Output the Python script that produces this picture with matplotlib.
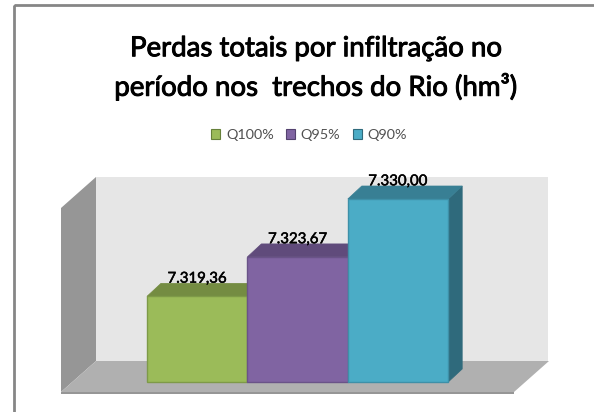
import matplotlib
matplotlib.use("Agg")
import matplotlib.pyplot as plt
import matplotlib.patheffects as pe
from matplotlib.patches import Polygon, Rectangle
from matplotlib.transforms import Affine2D

series = ["Q100%", "Q95%", "Q90%"]
values = [7319.36, 7323.67, 7330.00]
labels = ["7.319,36", "7.323,67", "7.330,00"]
title = "Perdas totais por infiltração no\nperíodo nos  trechos do Rio (hm³)"
front = ["#9BBB59", "#8064A2", "#4BACC6"]
top = ["#748C42", "#604B7B", "#387F94"]
side = ["#66803A", "#54426F", "#2F6A7C"]
edge = ["#7E9A48", "#6A5388", "#3E90A8"]

W, H = 594, 412
fig = plt.figure(figsize=(W / 100, H / 100), dpi=100, facecolor="white")
ax = fig.add_axes([0, 0, 1, 1])
ax.axis("off")

base = 7310.0
py_per_unit = 9.15
px_per_cat = 100.4
x0 = 147 + px_per_cat / 2
ax.set_xlim(-x0 / px_per_cat, (W - x0) / px_per_cat)
ax.set_ylim(base - (H - 382) / py_per_unit, base + 382 / py_per_unit)
dx = 14 / px_per_cat
dy = 13 / py_per_unit

px = Affine2D().scale(1, -1).translate(0, H)


def poly(pts, fc, z=1):
    ax.add_patch(Polygon(pts, closed=True, facecolor=fc, edgecolor="none",
                         transform=px, zorder=z, clip_on=False))


poly([(96, 177), (548, 177), (548, 361), (96, 361)], "#E6E6E6")
poly([(61, 208), (96, 177), (96, 361), (61, 392)], "#969696")
poly([(61, 392), (96, 361), (549, 361), (514, 392)], "#B0B0B0")
poly([(61, 392), (514, 392), (514, 393.5), (61, 393.5)], "#969696")

ax.add_patch(Rectangle((14, 5), W + 10, H + 10, fill=False, edgecolor="#868686",
                       linewidth=2, transform=px, zorder=6, clip_on=False))

for i, v in enumerate(values):
    ax.bar(i, v - base, bottom=base, width=1.0, color=front[i], edgecolor=edge[i],
           linewidth=1, zorder=3 + i * 0.1)
    l, r = i - 0.5, i + 0.5
    ax.add_patch(Polygon([(l, v), (r, v), (r + dx, v + dy), (l + dx, v + dy)],
                         facecolor=top[i], edgecolor=top[i], linewidth=0.5, zorder=2.9))
    ax.add_patch(Polygon([(r, base), (r + dx, base + dy), (r + dx, v + dy), (r, v)],
                         facecolor=side[i], edgecolor=side[i], linewidth=0.5, zorder=2.8))
    t = ax.text(i, v + dy - 0.25, labels[i], ha="center", va="bottom", fontsize=10.8,
                family="Lato", color="black", zorder=7)
    t.set_path_effects([pe.withStroke(linewidth=0.35, foreground="black")])

tt = fig.text(316 / W, 1 - 68 / H, title, ha="center", va="center", fontsize=19.9,
              family="Lato", color="black", linespacing=1.5)
tt.set_path_effects([pe.withStroke(linewidth=0.7, foreground="black")])

handles = [Rectangle((0, 0), 1, 1, facecolor=front[i], edgecolor=side[i], linewidth=0.8)
           for i in range(3)]
fig.legend(handles, series, loc="center", bbox_to_anchor=(309 / W, 1 - 135 / H), ncol=3,
           frameon=False, prop={"family": "Lato", "size": 10.4}, handlelength=0.62,
           handleheight=0.75, handletextpad=0.4, columnspacing=0.85, labelcolor="#505050")

fig.savefig("out.png", dpi=100, facecolor="white")
